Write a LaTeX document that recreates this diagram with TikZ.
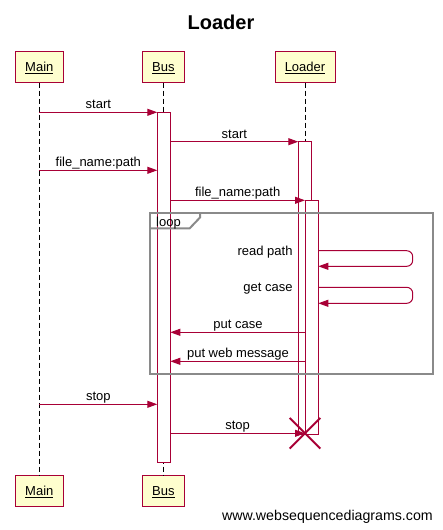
\documentclass[tikz,border=0pt]{standalone}
\usepackage{fontspec}
\setmainfont{Liberation Sans}
\usetikzlibrary{arrows.meta}
\definecolor{wsdred}{HTML}{A80036}
\definecolor{wsdfill}{HTML}{FEFECE}
\definecolor{wsdgray}{HTML}{8A8A8A}
\tikzset{
  actor/.style={draw=wsdred, fill=wsdfill, line width=1pt, minimum height=31pt, inner sep=0pt, text height=12pt, text depth=2pt, font=\fontsize{13}{15}\selectfont},
  lifeline/.style={draw=black, line width=1pt, dash pattern=on 5pt off 3pt},
  actbar/.style={draw=wsdred, fill=white, line width=1pt},
  msg/.style={draw=wsdred, line width=1pt, -{Triangle[length=10pt,width=7pt]}},
  lbl/.style={font=\fontsize{13}{15}\selectfont, inner sep=0pt, anchor=base},
  framebox/.style={draw=wsdgray, line width=2pt},
  killmark/.style={draw=wsdred, line width=2pt}
}
\begin{document}
\begin{tikzpicture}[x=1pt,y=-1pt]
\useasboundingbox (0,0) rectangle (443,530);
% title
\node[font=\fontsize{20}{24}\selectfont\bfseries, inner sep=0pt] (title) at (221,22) {Loader};
% participants
\node[actor, minimum width=48pt] (mainT) at (39.3,66.5) {\underline{Main}};
\node[actor, minimum width=42pt] (busT) at (163.3,66.5) {\underline{Bus}};
\node[actor, minimum width=60pt] (loaderT) at (305,66.5) {\underline{Loader}};
\node[actor, minimum width=48pt] (mainB) at (39.3,490.8) {\underline{Main}};
\node[actor, minimum width=42pt] (busB) at (163.3,490.8) {\underline{Bus}};
\coordinate (loaderEnd) at (305,433.3);
% lifelines
\draw[lifeline] (mainT.south) -- (mainB.north);
\draw[lifeline] (busT.south) -- (busB.north);
\draw[lifeline] (loaderT.south) -- (loaderEnd);
% activations
\draw[actbar] (157.3,112.3) rectangle (170.3,462.3);
\draw[actbar] (298.3,141.7) rectangle (311.3,434);
\draw[actbar] (305,200.3) rectangle (318.3,434);
% loop frame
\node[inner sep=0pt, minimum width=282.4pt, minimum height=161pt, draw=wsdgray, line width=2pt] (loopframe) at (291.5,293.8) {};
\draw[framebox] (loopframe.north west) ++(0,16) coordinate (tabA) -- ++(40.4,0) coordinate (tabB) -- ++(10.3,-10.8) coordinate (tabC) -- (tabC |- loopframe.north);
\node[lbl, anchor=base west] (looplbl) at (156,226) {loop};
% message endpoints
\coordinate (m1a) at (39.3,112.3);  \coordinate (m1b) at (157.3,112.3);
\coordinate (m2a) at (170.3,141.7); \coordinate (m2b) at (298.3,141.7);
\coordinate (m3a) at (39.3,170.3);  \coordinate (m3b) at (157.3,170.3);
\coordinate (m4a) at (170.3,200.3); \coordinate (m4b) at (305,200.3);
\coordinate (s1a) at (318.3,250.7); \coordinate (s1b) at (318.3,266.3);
\coordinate (s2a) at (318.3,287.3); \coordinate (s2b) at (318.3,303.3);
\coordinate (selfx) at (412.7,0);
\coordinate (m7a) at (305.7,332.3); \coordinate (m7b) at (170.3,332.3);
\coordinate (m8a) at (305.7,361.3); \coordinate (m8b) at (170.3,361.3);
\coordinate (m9a) at (39.3,404.3);  \coordinate (m9b) at (157.3,404.3);
\coordinate (m10a) at (170.3,433.3);
% messages
\draw[msg] (m1a) -- node[lbl, yshift=3.5pt] (l1) {start} (m1b);
\draw[msg] (m2a) -- node[lbl, yshift=3.7pt] (l2) {start} (m2b);
\draw[msg] (m3a) -- node[lbl, yshift=3.7pt] (l3) {file\_name:path} (m3b);
\draw[msg] (m4a) -- node[lbl, yshift=3.7pt] (l4) {file\_name:path} (m4b);
\draw[msg, rounded corners=6pt] (s1a) -- (s1a -| selfx) -- (s1b -| selfx) -- (s1b);
\node[lbl, anchor=base east] (l5) at (292.7,255.3) {read path};
\draw[msg, rounded corners=6pt] (s2a) -- (s2a -| selfx) -- (s2b -| selfx) -- (s2b);
\node[lbl, anchor=base east] (l6) at (292.7,291.9) {get case};
\draw[msg] (m7a) -- node[lbl, yshift=3.7pt] (l7) {put case} (m7b);
\draw[msg] (m8a) -- node[lbl, yshift=3.7pt] (l8) {put web message} (m8b);
\draw[msg] (m9a) -- node[lbl, yshift=3.7pt] (l9) {stop} (m9b);
\draw[msg] (m10a) -- node[lbl, yshift=3.7pt] (l10) {stop} (loaderEnd);
% destroy mark
\draw[killmark] (loaderEnd) ++(-15.3,-15.3) -- ++(30.6,30.6);
\draw[killmark] (loaderEnd) ++(-15.3,15.3) -- ++(30.6,-30.6);
% footer
\node[font=\fontsize{14.2}{17}\selectfont, inner sep=0pt, anchor=base east] (footer) at (433,520) {www.websequencediagrams.com};
\end{tikzpicture}
\end{document}
